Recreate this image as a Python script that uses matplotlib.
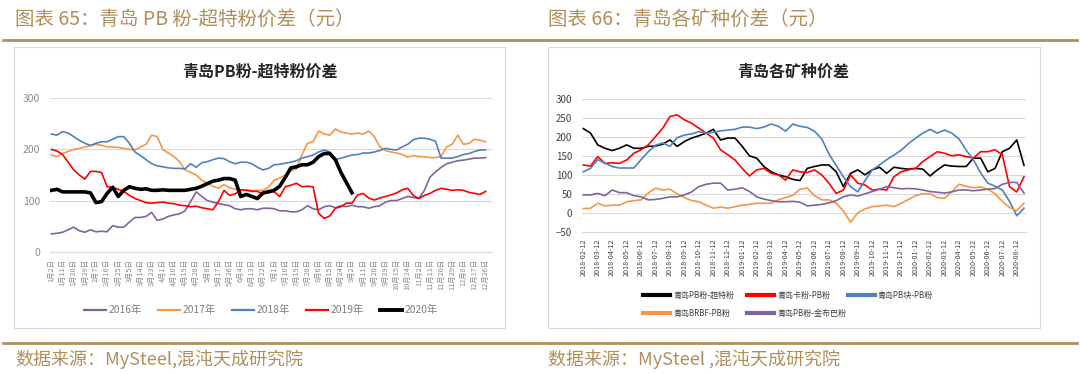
import numpy as np
import matplotlib
matplotlib.use("Agg")
import matplotlib.pyplot as plt
from matplotlib.lines import Line2D
from matplotlib.patches import Rectangle

plt.rcParams['font.family'] = ['Noto Sans CJK SC', 'DejaVu Sans']

W, H = 1080, 374

# ---------------- left chart: 青岛PB粉-超特粉价差 (sampled every half tick) ----------------
left_ticks = ['1月2日', '1月11日', '1月20日', '1月29日', '2月7日', '2月16日', '2月25日', '3月5日',
              '3月14日', '3月23日', '4月1日', '4月10日', '4月19日', '4月28日', '5月8日', '5月17日',
              '5月26日', '6月4日', '6月13日', '6月22日', '7月1日', '7月10日', '7月19日', '7月28日',
              '8月6日', '8月15日', '8月24日', '9月2日', '9月11日', '9月20日', '9月29日', '10月15日',
              '10月24日', '11月2日', '11月11日', '11月20日', '11月29日', '12月8日', '12月17日', '12月26日']

y2016 = [35, 36, 38, 43, 48, 41, 38, 43, 39, 40,
         39, 51, 48, 48, 58, 67, 67, 69, 77, 61,
         64, 69, 72, 74, 80, 98, 117, 108, 100, 97,
         94, 92, 90, 84, 82, 84, 84, 82, 85, 85,
         84, 80, 80, 78, 78, 82, 90, 84, 82, 88,
         90, 86, 90, 88, 91, 88, 88, 85, 88, 90,
         97, 100, 100, 104, 108, 106, 104, 120, 146, 156,
         165, 172, 175, 178, 179, 181, 183, 183, 184]
y2017 = [189, 186, 192, 196, 200, 202, 205, 207, 210, 208,
         205, 205, 204, 202, 200, 199, 205, 210, 228, 225,
         200, 193, 186, 176, 160, 155, 150, 140, 134, 128,
         124, 131, 125, 122, 121, 121, 120, 120, 120, 126,
         140, 144, 150, 158, 162, 190, 212, 215, 236, 230,
         228, 240, 234, 232, 230, 232, 230, 236, 225, 205,
         198, 195, 193, 190, 185, 188, 186, 186, 184, 184,
         186, 205, 210, 228, 210, 212, 220, 218, 215]
y2018 = [230, 228, 235, 232, 225, 218, 212, 208, 212, 215,
         215, 220, 225, 225, 212, 195, 188, 180, 172, 168,
         166, 164, 163, 163, 162, 172, 165, 174, 176, 180,
         183, 182, 176, 172, 175, 175, 172, 165, 160, 163,
         170, 171, 173, 175, 178, 183, 186, 189, 195, 199,
         195, 180, 183, 186, 189, 190, 193, 193, 195, 198,
         202, 200, 199, 205, 210, 219, 222, 222, 220, 216,
         183, 183, 183, 186, 190, 192, 196, 199, 199]
y2019 = [200, 197, 190, 175, 160, 150, 142, 157, 157, 155,
         127, 126, 122, 118, 110, 104, 100, 96, 95, 96,
         97, 95, 94, 91, 90, 88, 89, 86, 84, 82,
         98, 120, 110, 113, 121, 120, 118, 118, 112, 120,
         117, 108, 127, 130, 134, 127, 128, 127, 75, 65,
         70, 85, 88, 95, 95, 111, 114, 105, 101, 105,
         108, 111, 115, 121, 124, 110, 104, 110, 114, 120,
         124, 122, 120, 121, 120, 116, 114, 112, 118]
y2020 = [120, 122, 117, 117, 117, 117, 117, 115, 96, 98,
         114, 126, 108, 120, 127, 124, 122, 123, 120, 120,
         121, 120, 120, 120, 120, 122, 124, 128, 133, 138,
         140, 143, 143, 140, 108, 112, 108, 104, 115, 117,
         120, 128, 145, 164, 166, 170, 170, 175, 186, 192,
         192, 180, 155, 135, 115]

left_series = [('2016年', y2016, '#8064A2', 1.2),
               ('2017年', y2017, '#F79646', 1.2),
               ('2018年', y2018, '#4F81BD', 1.2),
               ('2019年', y2019, '#FF0000', 1.2),
               ('2020年', y2020, '#000000', 2.6)]

# ---------------- right chart: 青岛各矿种价差 (sampled every half month) ----------------
right_ticks = ['2018-02-12', '2018-03-12', '2018-04-12', '2018-05-12', '2018-06-12', '2018-07-12',
               '2018-08-12', '2018-09-12', '2018-10-12', '2018-11-12', '2018-12-12', '2019-01-12',
               '2019-02-12', '2019-03-12', '2019-04-12', '2019-05-12', '2019-06-12', '2019-07-12',
               '2019-08-12', '2019-09-12', '2019-10-12', '2019-11-12', '2019-12-12', '2020-01-12',
               '2020-02-12', '2020-03-12', '2020-04-12', '2020-05-12', '2020-06-12', '2020-07-12',
               '2020-08-12']

pb_ssf = [222, 210, 179, 170, 164, 170, 179, 170, 170, 175,
          176, 181, 192, 175, 188, 197, 203, 210, 220, 192,
          197, 197, 175, 150, 144, 122, 108, 100, 95, 88,
          85, 117, 122, 126, 126, 108, 69, 104, 113, 100,
          113, 120, 104, 120, 117, 115, 117, 115, 97, 113,
          126, 123, 122, 122, 144, 144, 108, 117, 161, 170,
          192, 125]
kafen_pb = [126, 123, 148, 130, 132, 130, 139, 157, 166, 179,
            201, 223, 254, 258, 245, 236, 223, 210, 197, 166,
            153, 139, 117, 97, 113, 117, 104, 100, 86, 113,
            108, 106, 113, 100, 78, 51, 60, 100, 78, 73,
            60, 62, 60, 95, 108, 113, 117, 135, 148, 161,
            157, 150, 153, 148, 144, 161, 161, 166, 153, 69,
            55, 95]
pbkuai_pb = [108, 117, 140, 131, 122, 118, 118, 118, 140, 161,
             178, 184, 175, 198, 205, 208, 214, 210, 212, 216,
             218, 220, 226, 226, 222, 226, 234, 228, 215, 234,
             228, 225, 215, 195, 155, 125, 95, 69, 55, 85,
             113, 126, 140, 152, 165, 182, 197, 210, 220, 210,
             218, 210, 195, 165, 140, 105, 78, 70, 60, 30,
             -8, 12]
brbf_pb = [11, 12, 25, 18, 20, 20, 29, 32, 34, 52,
           65, 60, 62, 50, 40, 32, 29, 20, 12, 15,
           12, 16, 20, 22, 25, 25, 25, 34, 40, 46,
           62, 65, 45, 34, 34, 25, 5, -25, 0, 10,
           16, 18, 20, 16, 25, 35, 45, 50, 50, 40,
           38, 55, 75, 70, 66, 68, 62, 50, 30, 14,
           5, 25]
pb_jbb = [47, 47, 51, 45, 60, 53, 53, 45, 42, 34,
          35, 38, 42, 42, 47, 55, 69, 75, 78, 78,
          60, 62, 66, 56, 42, 36, 32, 29, 29, 30,
          28, 18, 20, 22, 26, 32, 42, 47, 44, 50,
          56, 62, 69, 66, 63, 64, 63, 60, 56, 54,
          52, 55, 60, 60, 58, 60, 62, 64, 75, 80,
          80, 52]

right_series = [('青岛PB粉-超特粉', pb_ssf, '#000000'),
                ('青岛卡粉-PB粉', kafen_pb, '#FF0000'),
                ('青岛PB块-PB粉', pbkuai_pb, '#4F81BD'),
                ('青岛BRBF-PB粉', brbf_pb, '#F79646'),
                ('青岛PB粉-金布巴粉', pb_jbb, '#8064A2')]

GOLD = '#B08F5C'
GRID = '#D9D9D9'


def fx(px):
    return px / W


def fy(py):
    return 1 - py / H


def add_axes_px(fig, x0, y0, x1, y1):
    return fig.add_axes([fx(x0), fy(y1), (x1 - x0) / W, (y1 - y0) / H])


def style_axes(ax, yticks, ylim, label_color, ysize, xsize):
    ax.set_ylim(*ylim)
    ax.set_yticks(yticks)
    ax.grid(axis='y', color=GRID, linewidth=0.8)
    ax.set_axisbelow(True)
    for side in ['left', 'right', 'top']:
        ax.spines[side].set_visible(False)
    ax.spines['bottom'].set_color(GRID)
    ax.tick_params(axis='y', length=0, labelsize=ysize, labelcolor=label_color, pad=7)
    ax.tick_params(axis='x', length=0, labelsize=xsize, labelcolor=label_color, pad=5,
                   labelrotation=90)


def legend_entry(fig, x, y, label, color, lw, handle_len, size, text_color):
    fig.add_artist(Line2D([fx(x), fx(x + handle_len)], [fy(y), fy(y)],
                          color=color, linewidth=lw, transform=fig.transFigure))
    fig.text(fx(x + handle_len + 3), fy(y), label, fontsize=size, color=text_color,
             va='center', ha='left')


fig = plt.figure(figsize=(W / 100, H / 100), dpi=100)

# header / footer decorations
fig.text(fx(15), fy(19), '图表 65：青岛 PB 粉-超特粉价差（元）', fontsize=14, color=GOLD, va='center')
fig.text(fx(548), fy(19), '图表 66：青岛各矿种价差（元）', fontsize=14, color=GOLD, va='center')
fig.add_artist(Line2D([fx(3), fx(1077)], [fy(40), fy(40)], color=GOLD, linewidth=2))
fig.add_artist(Line2D([fx(3), fx(1077)], [fy(343), fy(343)], color=GOLD, linewidth=2))
fig.text(fx(15), fy(359), '数据来源：MySteel,混沌天成研究院', fontsize=13, color=GOLD, va='center')
fig.text(fx(548), fy(359), '数据来源：MySteel ,混沌天成研究院', fontsize=13, color=GOLD, va='center')

# chart frames
for x0, x1 in [(14, 505), (548, 1040)]:
    fig.add_artist(Rectangle((fx(x0), fy(328)), (x1 - x0) / W, (328 - 47) / H,
                             transform=fig.transFigure, fill=False, edgecolor=GRID, linewidth=0.8))

# ---- left chart ----
ax1 = add_axes_px(fig, 50, 98.3, 492, 251.7)
for name, vals, color, lw in left_series:
    xs = np.arange(len(vals)) * 0.5
    ax1.plot(xs, vals, color=color, linewidth=lw, solid_joinstyle='round')
ax1.set_xticks(np.arange(len(left_ticks)))
ax1.set_xticklabels(left_ticks)
ax1.set_xlim(-0.13, 39.57)
style_axes(ax1, [0, 100, 200, 300], (0, 300), '#8C8C8C', 7.5, 5.3)
fig.text(fx(260), fy(72), '青岛PB粉-超特粉价差', fontsize=11.5, fontweight='bold',
         color='#262626', ha='center', va='center')

lx = [84, 158, 232, 306, 380]
for (name, vals, color, lw), x in zip(left_series, lx):
    legend_entry(fig, x, 310, name, color, 2.8 if lw > 2 else 1.6, 22, 7.4, '#7F7F7F')

# ---- right chart ----
ax2 = add_axes_px(fig, 582, 99, 1026, 231.7)
for name, vals, color in right_series:
    xs = np.arange(len(vals)) * 0.5
    ax2.plot(xs, vals, color=color, linewidth=1.2, solid_joinstyle='round')
ax2.set_xticks(np.arange(len(right_ticks)))
ax2.set_xticklabels(right_ticks)
ax2.set_xlim(-0.09, 30.64)
style_axes(ax2, np.arange(-50, 301, 50), (-50, 300), '#404040', 7, 5.2)
fig.text(fx(793), fy(72), '青岛各矿种价差', fontsize=11.5, fontweight='bold',
         color='#262626', ha='center', va='center')

rpos = [(643, 295), (747, 295), (848, 295), (643, 313), (747, 313)]
for (name, vals, color), (x, y) in zip(right_series, rpos):
    legend_entry(fig, x, y, name, color, 3, 27, 5.8, '#404040')

fig.savefig('out.png', dpi=100)
